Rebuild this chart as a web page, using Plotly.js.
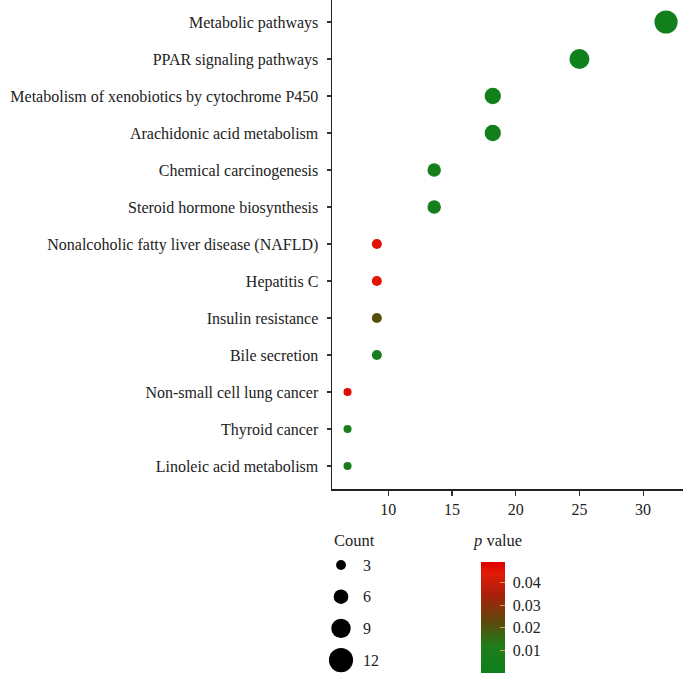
<!DOCTYPE html>
<html>
<head>
<meta charset="utf-8">
<script src="https://cdn.plot.ly/plotly-3.0.1.min.js"></script>
<style>html,body{margin:0;padding:0;background:#fff;}#chart{width:683px;height:673px;}</style>
</head>
<body>
<div id="chart"></div>
<script>
// Pathways (top to bottom)
var pathways = [
  "Metabolic pathways",
  "PPAR signaling pathways",
  "Metabolism of xenobiotics by cytochrome P450",
  "Arachidonic acid metabolism",
  "Chemical carcinogenesis",
  "Steroid hormone biosynthesis",
  "Nonalcoholic fatty liver disease (NAFLD)",
  "Hepatitis C",
  "Insulin resistance",
  "Bile secretion",
  "Non-small cell lung cancer",
  "Thyroid cancer",
  "Linoleic acid metabolism"
];
// Rich factor / percentage (x axis)
var ratio = [31.8, 25.0, 18.2, 18.2, 13.6, 13.6, 9.1, 9.1, 9.1, 9.1, 6.8, 6.8, 6.8];
// Gene counts (marker size)
var counts = [14, 11, 8, 8, 6, 6, 4, 4, 4, 4, 3, 3, 3];
// p values (marker colour)
var pvals = [0.003, 0.001, 0.004, 0.004, 0.005, 0.005, 0.046, 0.045, 0.021, 0.006, 0.047, 0.007, 0.007];
// Size legend breaks
var sizeBreaks = [3, 6, 9, 12];
// Colorbar ticks
var cbTicks = [0.01, 0.02, 0.03, 0.04];
var xTicks = [10, 15, 20, 25, 30];

var W = 683, H = 673;
var FONT = "Liberation Serif, Times New Roman, serif";

function sizeFor(c) { return -4.9 + 7.5 * Math.sqrt(c); }
function legendSizeFor(c) { return 5 + 1.6 * c; }

var colorscale = [[0, '#0d801c'], [0.25, '#1f7d1a'], [0.45, '#5a4a0c'], [0.7, '#a8200a'], [0.9, '#e21a08'], [1, '#e00000']];

var main = {
  type: 'scatter', mode: 'markers',
  x: ratio, y: pathways,
  xaxis: 'x', yaxis: 'y',
  showlegend: false,
  hoverinfo: 'x+y',
  marker: {
    size: counts.map(sizeFor),
    color: pvals,
    cmin: 0, cmax: 0.049,
    colorscale: colorscale,
    line: {width: 0},
    opacity: 1,
    colorbar: {
      x: 481 / W, xanchor: 'left', xpad: 0,
      y: 0, yanchor: 'bottom', ypad: 0,
      len: 111, lenmode: 'pixels',
      thickness: 24, thicknessmode: 'pixels',
      outlinewidth: 0,
      tickvals: cbTicks,
      ticktext: cbTicks.map(function(v){ return '\u00a0' + v.toFixed(2); }),
      ticks: 'inside', ticklen: 5, tickcolor: '#d9a441', tickwidth: 1,
      tickfont: {family: FONT, size: 16, color: '#222'}
    }
  }
};

// size legend drawn on its own hidden axes
var legY = sizeBreaks.map(function(_, i){ return 20 + i * 31.7; });
var sizeLegend = {
  type: 'scatter', mode: 'markers',
  x: sizeBreaks.map(function(){ return 21; }),
  y: legY,
  xaxis: 'x2', yaxis: 'y2',
  showlegend: false, hoverinfo: 'skip',
  marker: {size: sizeBreaks.map(legendSizeFor), color: '#000', opacity: 1, line: {width: 0}}
};

var annotations = sizeBreaks.map(function(b, i){
  return {xref: 'x2', yref: 'y2', x: 41, y: legY[i], text: String(b),
          xanchor: 'left', yanchor: 'middle', showarrow: false,
          font: {family: FONT, size: 16, color: '#222'}};
});
annotations.push({xref: 'paper', yref: 'paper', x: 332 / W, y: 1 - 540 / H,
  text: 'Count', xanchor: 'left', yanchor: 'middle', showarrow: false,
  font: {family: FONT, size: 16.5, color: '#222'}});
annotations.push({xref: 'paper', yref: 'paper', x: 471 / W, y: 1 - 540 / H,
  text: '<i>p</i> value', xanchor: 'left', yanchor: 'middle', showarrow: false,
  font: {family: FONT, size: 16.5, color: '#222'}});

var layout = {
  width: W, height: H,
  margin: {l: 0, r: 0, t: 0, b: 0, pad: 0},
  paper_bgcolor: '#fff', plot_bgcolor: '#fff',
  font: {family: FONT, size: 16, color: '#222'},
  xaxis: {
    domain: [332 / W, 1],
    range: [5.58, 33.13],
    tickvals: xTicks,
    ticks: 'outside', ticklen: 5, tickcolor: '#333', tickwidth: 1.2,
    showline: true, linecolor: '#222', linewidth: 1.5,
    showgrid: false, zeroline: false,
    tickfont: {family: FONT, size: 16, color: '#222'},
    anchor: 'y'
  },
  yaxis: {
    domain: [1 - 489 / H, 1],
    type: 'category',
    categoryorder: 'array', categoryarray: pathways,
    range: [12.62, -0.595],
    ticks: 'outside', ticklen: 4, tickcolor: '#333', tickwidth: 1.2,
    ticklabelstandoff: 5,
    showline: true, linecolor: '#222', linewidth: 1.5,
    showgrid: false, zeroline: false,
    tickfont: {family: FONT, size: 16, color: '#222'},
    anchor: 'x'
  },
  xaxis2: {domain: [320 / W, 400 / W], range: [0, 80], visible: false, anchor: 'y2', fixedrange: true},
  yaxis2: {domain: [0, 128 / H], range: [128, 0], visible: false, anchor: 'x2', fixedrange: true},
  annotations: annotations,
  showlegend: false
};

Plotly.newPlot('chart', [main, sizeLegend], layout, {displayModeBar: false, staticPlot: true});
</script>
</body>
</html>
